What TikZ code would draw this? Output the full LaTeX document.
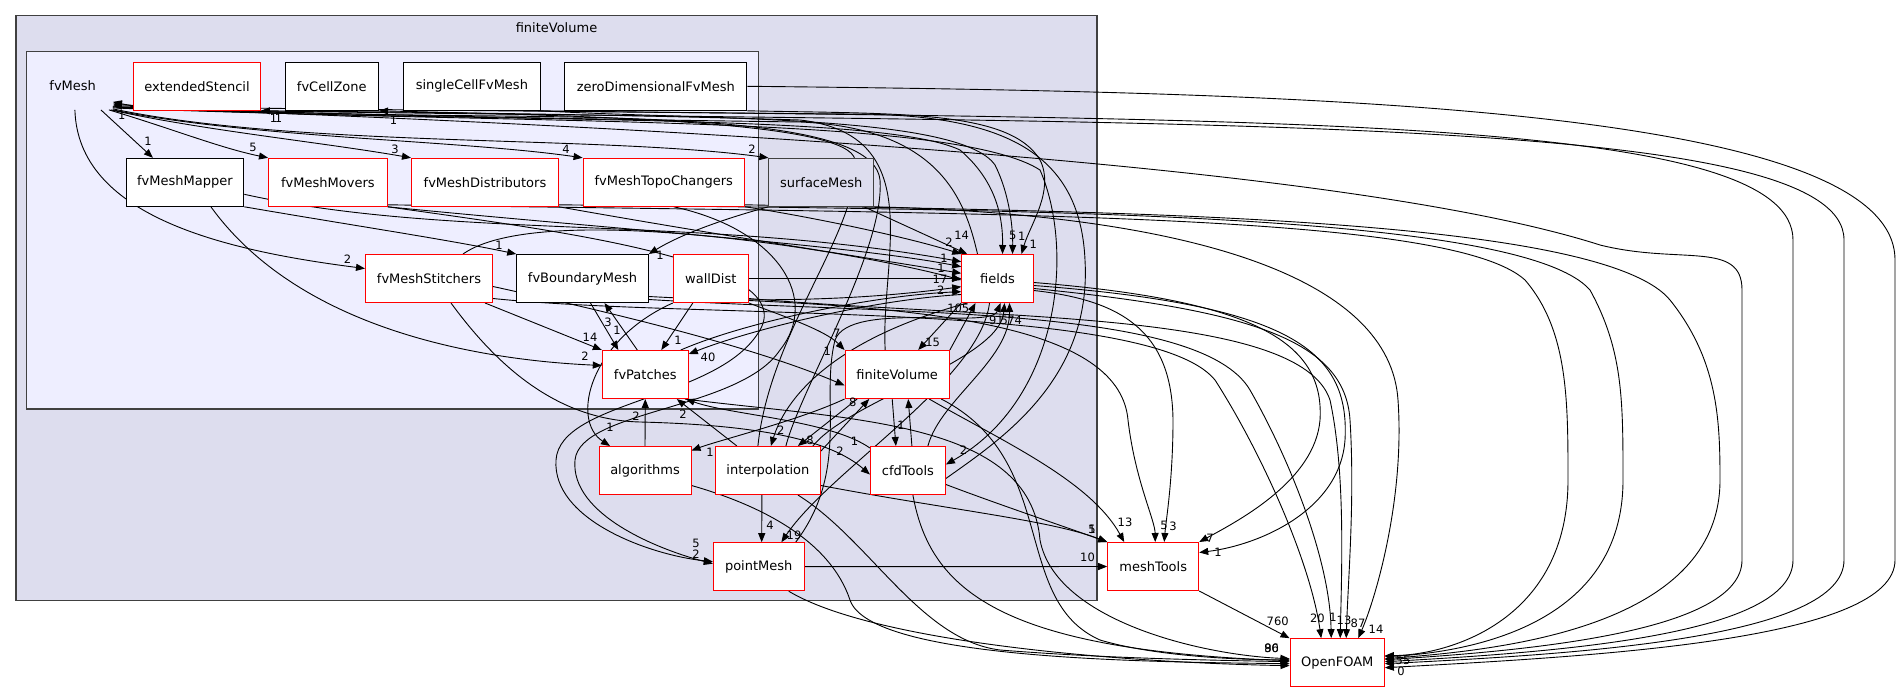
\documentclass[tikz,border=0pt]{standalone}
\usepackage{fontspec}
\setmainfont{DejaVu Sans}
\usetikzlibrary{arrows.meta}
\definecolor{clOuter}{HTML}{DDDDEE}
\definecolor{clInner}{HTML}{EEEEFF}
\definecolor{clBorder}{HTML}{404040}
\newcommand\dxNodeFont{\fontsize{13}{15}\selectfont}
\newcommand\dxLblFont{\fontsize{11.5}{13}\selectfont}
\pgfdeclarelayer{bg}
\pgfdeclarelayer{edgelayer}
\pgfsetlayers{bg,edgelayer,main}
\tikzset{
  dirbox/.style={draw=black, fill=white, line width=1pt, minimum height=48pt, inner sep=0pt, font=\dxNodeFont},
  reddir/.style={dirbox, draw=red},
  greydir/.style={dirbox, fill=clOuter, draw=clBorder},
  dep/.style={draw=black, line width=0.9pt, -{Triangle[length=9pt,width=7pt]}},
  lbl/.style={font=\dxLblFont, inner sep=0pt, text=black},
  cluster/.style={draw=clBorder, line width=1.2pt}
}
\begin{document}
\begin{tikzpicture}[x=1pt,y=-1pt]
\useasboundingbox (0,0) rectangle (1903,692);
\begin{pgfonlayer}{bg}
\fill[white] (0,0) rectangle (1903,692);
\draw[cluster, fill=clOuter] (16,15.7) rectangle (1097,600.7);
\draw[cluster, fill=clInner] (26.7,51.7) rectangle (758.3,409);
\end{pgfonlayer}
\node[font=\dxNodeFont] (tFV) at (556.5,28) {finiteVolume};
\node[font=\dxNodeFont, minimum width=80pt, minimum height=48pt, inner sep=0pt] (fvMesh) at (72.7,85.7) {fvMesh};
% top row
\node[reddir, minimum width=126.5pt] (extendedStencil) at (197,86.3) {extendedStencil};
\node[dirbox, minimum width=93.5pt] (fvCellZone) at (331.8,86.3) {fvCellZone};
\node[dirbox, minimum width=137pt] (singleCellFvMesh) at (471.9,86.3) {singleCellFvMesh};
\node[dirbox, minimum width=182pt] (zeroDimensionalFvMesh) at (655.8,86.3) {zeroDimensionalFvMesh};
% row 2
\node[dirbox, minimum width=117.8pt] (fvMeshMapper) at (184.9,182.3) {fvMeshMapper};
\node[reddir, minimum width=118.8pt] (fvMeshMovers) at (327.9,182.3) {fvMeshMovers};
\node[reddir, minimum width=147pt] (fvMeshDistributors) at (485,182.3) {fvMeshDistributors};
\node[reddir, minimum width=161.5pt] (fvMeshTopoChangers) at (663.8,182.3) {fvMeshTopoChangers};
\node[greydir, minimum width=104.7pt] (surfaceMesh) at (821.2,182.3) {surfaceMesh};
% row 3
\node[reddir, minimum width=127pt] (fvMeshStitchers) at (429,278.5) {fvMeshStitchers};
\node[dirbox, minimum width=131.6pt] (fvBoundaryMesh) at (582.5,278.5) {fvBoundaryMesh};
\node[reddir, minimum width=75pt] (wallDist) at (710.8,278.5) {wallDist};
\node[reddir, minimum width=71.6pt] (fields) at (997.5,278.5) {fields};
% row 4
\node[reddir, minimum width=86pt] (fvPatches) at (645.3,374.5) {fvPatches};
\node[reddir, minimum width=104.3pt] (finiteVolume) at (897.2,374.5) {finiteVolume};
% row 5
\node[reddir, minimum width=92pt] (algorithms) at (645,470.5) {algorithms};
\node[reddir, minimum width=105.1pt] (interpolation) at (767.9,470.5) {interpolation};
\node[reddir, minimum width=75pt] (cfdTools) at (907.9,470.5) {cfdTools};
% row 6
\node[reddir, minimum width=90.7pt] (pointMesh) at (758.7,566.7) {pointMesh};
\node[reddir, minimum width=91pt] (meshTools) at (1153.2,566.5) {meshTools};
\node[reddir, minimum width=94.3pt] (OpenFOAM) at (1337.2,662.7) {OpenFOAM};

\begin{pgfonlayer}{edgelayer}
% ---- fvMesh outgoing
\draw[dep] ([xshift=-12pt]fvMesh.south east) -- ([xshift=-32pt]fvMeshMapper.north);
\draw[dep] ([xshift=-4pt]fvMesh.south east) .. controls (170,128) and (220,148) .. (fvMeshMovers.north west);
\draw[dep] ([xshift=-2pt]fvMesh.south east) .. controls (200,130) and (320,142) .. (fvMeshDistributors.north west);
\draw[dep] (fvMesh.south east) .. controls (250,138) and (460,140) .. (fvMeshTopoChangers.north west);
\draw[dep] ([yshift=1pt]fvMesh.south east) .. controls (300,148) and (600,135) .. (surfaceMesh.north west);
\draw[dep] ([xshift=-38pt]fvMesh.south east) .. controls (78,215) and (220,250) .. ([yshift=10pt]fvMeshStitchers.west);
\draw[dep] ([yshift=2pt]fvMesh.south east) .. controls (500,124) and (880,112) .. (960,150) .. controls (995,180) and (1003,215) .. ([xshift=5pt]fields.north);
\draw[dep] ([yshift=3pt]fvMesh.south east) .. controls (500,126) and (950,112) .. (1040,170) .. controls (1075,250) and (1060,400) .. ([yshift=6pt]cfdTools.east);
% ---- into fvMesh and top row
\draw[dep] ([xshift=-20pt]fields.north) .. controls (965,200) and (940,128) .. (800,122) .. controls (500,118) and (200,112) .. ([yshift=6pt]fvMesh.south east);
\draw[dep] ([yshift=-8pt]cfdTools.east) .. controls (1000,440) and (1092,380) .. (1085,260) .. controls (1080,150) and (1000,114) .. (850,114) .. controls (600,112) and (200,108) .. ([yshift=4pt]fvMesh.south east);
\draw[dep] ([xshift=18pt]interpolation.north) .. controls (800,390) and (885,250) .. (880,180) .. controls (875,125) and (700,118) .. (500,116) .. controls (300,114) and (150,110) .. ([yshift=8pt]fvMesh.south east);
\draw[dep] ([xshift=-12pt]finiteVolume.north) .. controls (880,260) and (930,135) .. (800,120) .. controls (600,114) and (400,112) .. (extendedStencil.south east);
\draw[dep] ([xshift=-10pt]interpolation.north) .. controls (770,330) and (860,230) .. (855,160) .. controls (850,122) and (600,116) .. (fvCellZone.south east);
\draw[dep] (singleCellFvMesh.south east) .. controls (700,120) and (960,114) .. (995,165) .. controls (1010,195) and (1013,230) .. ([xshift=15pt]fields.north);
\draw[dep] (zeroDimensionalFvMesh.south east) .. controls (900,114) and (1010,110) .. (1040,160) .. controls (1055,190) and (1030,225) .. ([xshift=24pt]fields.north);
% ---- long right-hand lines into OpenFOAM
\draw[dep] (zeroDimensionalFvMesh.east) .. controls (1300,92) and (1895,105) .. (1895,260) -- (1895,560) .. controls (1895,640) and (1600,656) .. ([yshift=-5pt]OpenFOAM.east);
\draw[dep] ([xshift=-3pt]singleCellFvMesh.south east) .. controls (1300,120) and (1793,118) .. (1793,240) -- (1793,560) .. controls (1793,635) and (1560,652) .. ([yshift=1pt]OpenFOAM.east);
\draw[dep] ([xshift=-10pt]extendedStencil.south east) .. controls (1200,125) and (1844,112) .. (1844,240) -- (1844,560) .. controls (1844,638) and (1580,654) .. ([yshift=-1pt]OpenFOAM.east);
\draw[dep] ([yshift=3pt]fvMesh.south east) .. controls (700,128) and (1350,165) .. (1600,245) .. controls (1680,265) and (1742,240) .. (1742,290) -- (1742,560) .. controls (1742,630) and (1540,650) .. ([yshift=3pt]OpenFOAM.east);
\draw[dep] ([yshift=2pt]fvMeshMovers.south east) .. controls (1000,214) and (1450,212) .. (1525,280) .. controls (1568,330) and (1568,400) .. (1568,480) .. controls (1568,620) and (1450,655) .. ([yshift=7pt]OpenFOAM.east);
\draw[dep] ([yshift=2pt]fvMeshDistributors.south east) .. controls (1000,210) and (1520,210) .. (1590,290) .. controls (1623,350) and (1623,400) .. (1623,480) .. controls (1623,625) and (1470,652) .. ([yshift=6pt]OpenFOAM.east);
\draw[dep] ([yshift=2pt]fvMeshTopoChangers.south east) .. controls (1100,212) and (1600,215) .. (1670,300) .. controls (1718,360) and (1720,420) .. (1720,480) .. controls (1720,628) and (1500,650) .. ([yshift=4pt]OpenFOAM.east);
% ---- row 2 / row 3 edges
\draw[dep] ([xshift=26pt]fvMeshMapper.south) .. controls (300,330) and (480,360) .. ([yshift=9pt]fvPatches.west);
\draw[dep] (fvMeshMapper.south east) .. controls (350,225) and (450,240) .. (fvBoundaryMesh.north west);
\draw[dep] ([yshift=-12pt]fvMeshMapper.east) .. controls (450,240) and (700,215) .. ([yshift=16.8pt]fields.west);
\draw[dep] (fvMeshMovers.south east) .. controls (600,228) and (850,245) .. ([yshift=11.8pt]fields.west);
\draw[dep] (fvMeshDistributors.south east) .. controls (700,232) and (850,255) .. ([yshift=5.2pt]fields.west);
\draw[dep] (fvMeshTopoChangers.south east) .. controls (800,215) and (900,235) .. (fields.north west);
\draw[dep] ([xshift=-10pt]surfaceMesh.south east) -- ([xshift=6pt]fields.north west);
\draw[dep] (surfaceMesh.south west) .. controls (720,220) and (680,235) .. (fvBoundaryMesh.north east);
\draw[dep] ([xshift=34pt]fvMeshStitchers.north) .. controls (540,200) and (850,250) .. ([yshift=-1.5pt]fields.west);
\draw[dep] ([yshift=-8pt]fvMeshStitchers.east) .. controls (600,310) and (750,345) .. ([yshift=-11pt]finiteVolume.west);
\draw[dep] ([xshift=-8pt]fvMeshStitchers.south east) -- (fvPatches.north west);
\draw[dep] ([xshift=22pt]fvMeshStitchers.south) .. controls (500,370) and (560,420) .. (640,422) .. controls (760,425) and (830,440) .. ([yshift=-4pt]cfdTools.west);
\draw[dep] ([xshift=8pt]fvBoundaryMesh.south) -- ([xshift=-27pt]fvPatches.north);
\draw[dep] ([xshift=-8pt]fvPatches.north) -- ([xshift=22pt]fvBoundaryMesh.south);
\draw[dep] ([yshift=-18pt]fvBoundaryMesh.east) .. controls (800,305) and (900,295) .. ([yshift=-8.2pt]fields.west);
\draw[dep] (wallDist) -- (fields);
\draw[dep] ([xshift=-18pt]wallDist.south) -- ([xshift=16pt]fvPatches.north);
\draw[dep] (wallDist.south east) .. controls (780,315) and (825,330) .. (finiteVolume.north west);
\draw[dep] (wallDist.south west) .. controls (590,340) and (570,420) .. ([xshift=-35pt]algorithms.north);
\draw[dep] ([yshift=-16pt]fields.west) .. controls (870,300) and (750,330) .. ([yshift=-4pt]fvPatches.north east);
\draw[dep] ([xshift=-8pt]fvPatches.north east) .. controls (750,320) and (880,295) .. ([yshift=-13.2pt]fields.west);
% ---- fields / finiteVolume / lower nodes
\draw[dep] (fields.south west) -- ([xshift=21pt]finiteVolume.north);
\draw[dep] (finiteVolume.north east) -- ([xshift=-22pt]fields.south);
\draw[dep] ([xshift=-8pt]fields.south) .. controls (980,380) and (830,470) .. ([xshift=22.7pt]pointMesh.north);
\draw[dep] ([xshift=37pt]pointMesh.north) .. controls (850,470) and (820,400) .. (835,340) .. controls (850,300) and (990,330) .. ([xshift=3pt]fields.south);
\draw[dep] ([xshift=20pt]cfdTools.north) .. controls (940,400) and (1010,360) .. ([xshift=12pt]fields.south);
\draw[dep] ([xshift=45pt]interpolation.north) .. controls (850,400) and (1000,360) .. ([xshift=7pt]fields.south);
\draw[dep] ([xshift=-30pt]fields.south) .. controls (830,340) and (785,400) .. ([xshift=3pt]interpolation.north);
\draw[dep] ([xshift=-40pt]finiteVolume.south) -- ([xshift=30pt]interpolation.north);
\draw[dep] ([yshift=-5pt]interpolation.north east) -- ([xshift=-28pt]finiteVolume.south);
\draw[dep] ([xshift=-5pt]finiteVolume.south) -- ([xshift=-12pt]cfdTools.north);
\draw[dep] ([xshift=4pt]cfdTools.north) -- ([xshift=11pt]finiteVolume.south);
\draw[dep] (finiteVolume.south west) .. controls (800,420) and (720,440) .. ([yshift=20pt]algorithms.east);
\draw[dep] (algorithms.north) -- (fvPatches.south);
\draw[dep] ([xshift=-31pt]interpolation.north) -- ([xshift=-12pt]fvPatches.south east);
\draw[dep] ([yshift=-2pt]cfdTools.north west) .. controls (830,420) and (730,415) .. ([xshift=-3pt]fvPatches.south east);
\draw[dep] ([xshift=-6pt]interpolation.south) -- ([xshift=3pt]pointMesh.north);
\draw[dep] (fvMeshMovers.south east) .. controls (550,230) and (800,260) .. (760,330) .. controls (720,400) and (560,400) .. (556,460) .. controls (552,520) and (650,555) .. ([yshift=5pt]pointMesh.west);
\draw[dep] ([xshift=10pt]fvMeshTopoChangers.south) .. controls (780,230) and (820,300) .. (780,350) .. controls (740,410) and (580,410) .. (575,460) .. controls (570,515) and (660,550) .. ([yshift=3pt]pointMesh.west);
% ---- meshTools
\draw[dep] ([yshift=-22pt]wallDist.east) .. controls (950,310) and (1120,330) .. (1128,420) .. controls (1135,480) and (1155,520) .. ([xshift=2pt]meshTools.north);
\draw[dep] ([yshift=-12pt]fields.east) .. controls (1120,300) and (1172,330) .. (1173,420) .. controls (1173,480) and (1166,520) .. ([xshift=11pt]meshTools.north);
\draw[dep] ([yshift=-4pt]fields.east) .. controls (1250,300) and (1325,340) .. (1320,420) .. controls (1315,480) and (1240,520) .. (meshTools.north east);
\draw[dep] ([yshift=-7pt]fields.east) .. controls (1290,305) and (1350,350) .. (1345,440) .. controls (1340,510) and (1260,545) .. ([yshift=14pt]meshTools.east);
\draw[dep] ([xshift=32pt]finiteVolume.south) .. controls (1000,440) and (1090,480) .. ([xshift=-29pt]meshTools.north);
\draw[dep] ([yshift=-15pt]interpolation.east) .. controls (950,510) and (1050,520) .. (meshTools.north west);
\draw[dep] ([yshift=-14pt]cfdTools.east) .. controls (1000,505) and (1060,525) .. (meshTools.north west);
\draw[dep] (pointMesh) -- (meshTools);
\draw[dep] (meshTools.south east) -- (OpenFOAM.north west);
% ---- into OpenFOAM top
\draw[dep] ([yshift=-20pt]fvMeshStitchers.east) .. controls (700,320) and (1150,300) .. (1215,380) .. controls (1260,450) and (1310,560) .. ([xshift=-16pt]OpenFOAM.north);
\draw[dep] ([yshift=-21pt]fvBoundaryMesh.east) .. controls (900,315) and (1200,305) .. (1250,390) .. controls (1290,460) and (1330,560) .. ([xshift=-6pt]OpenFOAM.north);
\draw[dep] ([yshift=-20pt]wallDist.east) .. controls (1000,320) and (1300,310) .. (1330,400) .. controls (1345,470) and (1342,560) .. ([xshift=3pt]OpenFOAM.north);
\draw[dep] ([yshift=-10pt]fields.east) .. controls (1250,310) and (1345,340) .. (1350,420) .. controls (1355,500) and (1348,580) .. ([xshift=9pt]OpenFOAM.north);
\draw[dep] (surfaceMesh.south east) .. controls (1200,215) and (1390,280) .. (1398,400) .. controls (1405,500) and (1375,600) .. ([xshift=21pt]OpenFOAM.north);
% ---- into OpenFOAM left
\draw[dep] ([xshift=30pt]pointMesh.south) .. controls (870,640) and (1100,662) .. ([yshift=-3pt]OpenFOAM.west);
\draw[dep] ([yshift=-15pt]algorithms.east) .. controls (760,505) and (830,540) .. (850,600) .. controls (870,660) and (1150,662) .. ([yshift=-1pt]OpenFOAM.west);
\draw[dep] ([xshift=30pt]interpolation.south) .. controls (870,540) and (920,640) .. (1000,650) .. controls (1100,658) and (1200,660) .. ([yshift=1pt]OpenFOAM.west);
\draw[dep] ([xshift=5pt]cfdTools.south) .. controls (930,590) and (1000,650) .. ([yshift=2pt]OpenFOAM.west);
\draw[dep] ([xshift=44pt]finiteVolume.south) .. controls (1060,460) and (1010,600) .. (1100,640) .. controls (1150,655) and (1230,660) .. ([yshift=3pt]OpenFOAM.west);
\draw[dep] ([xshift=-4pt]fvPatches.south east) .. controls (850,420) and (1030,420) .. (1040,540) .. controls (1055,620) and (1200,655) .. ([yshift=4pt]OpenFOAM.west);
\end{pgfonlayer}

% ---- edge labels
\node[lbl] (l01) at (148,141) {1};
\node[lbl] (l02) at (253,147) {5};
\node[lbl] (l03) at (395,149) {3};
\node[lbl] (l04) at (566,149) {4};
\node[lbl] (l05) at (752,149) {2};
\node[lbl] (l06) at (347.5,259) {2};
\node[lbl] (l07) at (121.7,115) {1};
\node[lbl] (l08) at (273.5,118) {1};
\node[lbl] (l09) at (278.5,118) {1};
\node[lbl] (l10) at (393.6,120) {1};
\node[lbl] (l11) at (1012.7,235.7) {5};
\node[lbl] (l12) at (1021.7,236.7) {1};
\node[lbl] (l13) at (1033.3,244) {1};
\node[lbl] (l14) at (961.7,235.7) {14};
\node[lbl] (l15) at (949,242.7) {2};
\node[lbl] (l16) at (944,258.5) {1};
\node[lbl] (l17) at (941,268.5) {1};
\node[lbl] (l18) at (940,279) {17};
\node[lbl] (l19) at (940.7,290.5) {2};
\node[lbl] (l20) at (958.3,308.3) {105};
\node[lbl] (l21) at (992.7,320) {9};
\node[lbl] (l22) at (1000,320) {1};
\node[lbl] (l23) at (1004.3,320) {5};
\node[lbl] (l24) at (1011,320) {7};
\node[lbl] (l25) at (1018.3,320) {4};
\node[lbl] (l26) at (836.7,333.3) {7};
\node[lbl] (l27) at (827.3,351) {1};
\node[lbl] (l28) at (932.7,342.7) {15};
\node[lbl] (l29) at (852.7,402.7) {8};
\node[lbl] (l30) at (499,245) {1};
\node[lbl] (l31) at (660,255) {1};
\node[lbl] (l32) at (608,322) {3};
\node[lbl] (l33) at (617,330) {1};
\node[lbl] (l34) at (590,337) {14};
\node[lbl] (l35) at (585,356) {2};
\node[lbl] (l36) at (678,340) {1};
\node[lbl] (l37) at (708,357) {40};
\node[lbl] (l38) at (636,416) {2};
\node[lbl] (l39) at (683,414) {2};
\node[lbl] (l40) at (610,427) {1};
\node[lbl] (l41) at (710,452) {1};
\node[lbl] (l42) at (780.7,430) {2};
\node[lbl] (l43) at (810,440) {8};
\node[lbl] (l44) at (840,451) {2};
\node[lbl] (l45) at (854.6,441.7) {1};
\node[lbl] (l46) at (901,425) {1};
\node[lbl] (l47) at (963.5,450) {2};
\node[lbl] (l48) at (770,525) {4};
\node[lbl] (l49) at (794,535) {19};
\node[lbl] (l50) at (696,543) {5};
\node[lbl] (l51) at (696,554) {2};
\node[lbl] (l52) at (1125,522.7) {13};
\node[lbl] (l53) at (1164,525.7) {5};
\node[lbl] (l54) at (1173,526.7) {3};
\node[lbl] (l55) at (1210,538) {7};
\node[lbl] (l56) at (1218,552) {1};
\node[lbl] (l57) at (1092,529) {5};
\node[lbl] (l58) at (1092,529) {1};
\node[lbl] (l59) at (1087.5,557.7) {10};
\node[lbl] (l60) at (1277.7,621.7) {760};
\node[lbl] (l61) at (1317.3,618.3) {20};
\node[lbl] (l62) at (1333,617) {1};
\node[lbl] (l63) at (1344,620) {13};
\node[lbl] (l64) at (1358,623) {87};
\node[lbl] (l65) at (1376,629) {14};
\node[lbl] (l66) at (1271.7,648) {86};
\node[lbl] (l67) at (1271.7,648) {90};
\node[lbl] (l68) at (1403,660) {55};
\node[lbl] (l69) at (1401,671) {0};
\end{tikzpicture}
\end{document}
